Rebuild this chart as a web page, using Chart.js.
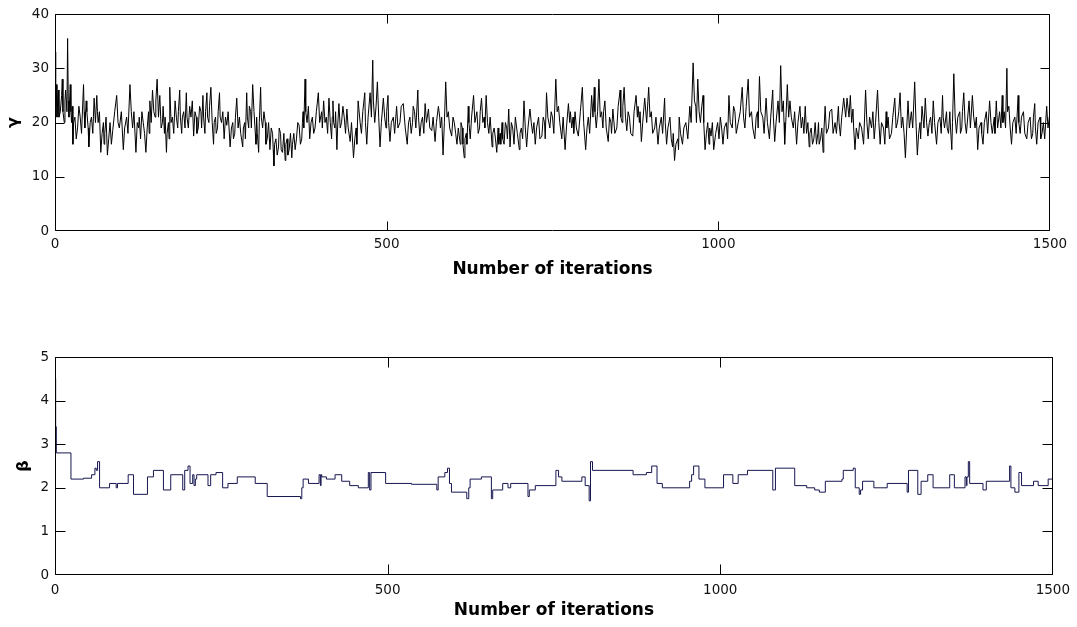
<!DOCTYPE html>
<html>
<head>
<meta charset="utf-8">
<title>Trace plots</title>
<script src="https://cdn.jsdelivr.net/npm/chart.js@4.4.1/dist/chart.umd.min.js"></script>
<style>
  html, body { margin: 0; padding: 0; background: #fff; }
  .panel { position: absolute; left: 0; width: 1077px; }
  #gammaPanel { top: 0; height: 290px; }
  #betaPanel { top: 340px; height: 287px; }
</style>
</head>
<body>
<div class="panel" id="gammaPanel"><canvas id="gammaChart"></canvas></div>
<div class="panel" id="betaPanel"><canvas id="betaChart"></canvas></div>
<script>
// tick positions
const iterationTicks = [0, 500, 1000, 1500];
const gammaTicks = [0, 10, 20, 30, 40];
const betaTicks = [0, 1, 2, 3, 4, 5];

// gamma chain: iteration -> sampled value
const gammaIter = [
  0, 1, 2, 3, 4, 5, 6, 8, 10, 11, 12, 14, 15, 16, 18, 19, 20, 21,
  23, 24, 25, 26, 27, 28, 30, 32, 34, 36, 38, 40, 43, 44, 45, 47, 48, 50, 51,
  53, 55, 57, 59, 61, 63, 64, 65, 67, 69, 71, 73, 74, 75, 77, 79, 81, 83, 85, 87,
  90, 93, 95, 97, 100, 103, 105, 108, 110, 113, 115, 117, 119, 122, 124, 126, 127, 129, 131, 133,
  135, 137, 139, 141, 142, 143, 145, 147, 149, 151, 152, 154, 156, 158, 160, 162, 163, 165, 166, 168,
  169, 171, 172, 173, 175, 177, 179, 181, 183, 185, 186, 188, 189, 191, 192, 194, 196, 198, 199, 201,
  203, 205, 207, 209, 211, 213, 214, 216, 218, 220, 221, 223, 224, 226, 227, 229, 230, 232, 233, 235,
  237, 239, 240, 242, 243, 245, 246, 248, 249, 251, 253, 255, 257, 259, 261, 264, 266, 268, 269, 271,
  272, 274, 276, 278, 280, 283, 284, 286, 287, 289, 290, 292, 293, 295, 296, 298, 300, 302, 303, 304,
  305, 307, 308, 310, 311, 313, 315, 317, 318, 320, 322, 324, 326, 328, 329, 330, 331, 333, 335, 337,
  338, 340, 341, 343, 345, 347, 348, 350, 351, 353, 355, 357, 358, 360, 362, 364, 366, 368, 370, 372,
  373, 374, 375, 377, 378, 380, 382, 384, 386, 388, 390, 392, 394, 397, 399, 402, 403, 405, 407, 409,
  411, 413, 415, 417, 418, 419, 420, 422, 423, 425, 426, 428, 430, 432, 434, 436, 438, 440, 442, 445,
  447, 450, 452, 454, 455, 457, 460, 462, 464, 467, 468, 470, 472, 475, 477, 479, 480, 482, 484, 486,
  488, 490, 492, 495, 497, 499, 500, 502, 503, 505, 507, 510, 512, 515, 517, 520, 522, 525, 528, 531,
  533, 535, 537, 539, 540, 542, 544, 547, 548, 550, 552, 554, 556, 558, 560, 563, 565, 568, 570, 573,
  575, 578, 580, 581, 583, 585, 587, 589, 591, 593, 595, 598, 600, 602, 604, 606, 608, 611,
  612, 614, 615, 617, 618, 620, 621, 623, 624, 626, 628, 631, 633, 636, 638, 640, 641, 643, 645, 647,
  648, 650, 652, 654, 656, 659, 660, 662, 664, 666, 668, 669, 671, 672, 674, 675, 677, 679, 681, 682,
  684, 685, 686, 688, 690, 692, 694, 697, 700, 701, 703, 705, 707, 709, 711, 713, 716, 718, 720, 722,
  724, 726, 729, 731, 734, 736, 738, 739, 741, 743, 746, 748, 750, 752, 755, 757, 759, 761, 764, 766,
  769, 771, 774, 776, 777, 779, 781, 782, 784, 786, 789, 792, 795, 797, 800, 802, 804, 806, 809, 811,
  813, 814, 816, 818, 820, 822, 824, 826, 827, 829, 831, 834, 836, 838, 839, 841, 844, 847, 849, 852,
  853, 855, 856, 858, 860, 862, 864, 866, 868, 871, 873, 876, 878, 879, 881, 882, 884, 886, 889, 892,
  895, 897, 899, 901, 904, 906, 909, 911, 914, 916, 919, 920, 922, 924, 927, 929, 931, 932, 934, 936,
  939, 940, 941, 943, 946, 948, 951, 954, 957, 959, 962, 964, 966, 967, 969, 971, 973, 975, 977, 978,
  980, 982, 984, 986, 987, 989, 991, 993, 996, 999, 1001, 1003, 1005, 1007, 1009, 1012, 1014, 1016, 1018, 1021,
  1023, 1025, 1027, 1030, 1033, 1036, 1038, 1040, 1042, 1045, 1047, 1050, 1052, 1055, 1057, 1059, 1060, 1062, 1064, 1067,
  1069, 1072, 1074, 1077, 1079, 1082, 1083, 1085, 1087, 1090, 1092, 1094, 1096, 1098, 1099, 1100, 1102, 1104, 1106, 1108,
  1110, 1113, 1115, 1118, 1120, 1123, 1125, 1127, 1129, 1131, 1133, 1135, 1137, 1138, 1140, 1142, 1144, 1146, 1148, 1150,
  1151, 1152, 1154, 1156, 1158, 1159, 1161, 1163, 1166, 1168, 1171, 1173, 1176, 1178, 1181, 1182, 1184, 1186, 1189, 1192,
  1194, 1197, 1199, 1201, 1203, 1204, 1206, 1208, 1211, 1213, 1216, 1219, 1222, 1224, 1226, 1228, 1231, 1233, 1235, 1237,
  1240, 1242, 1244, 1246, 1249, 1251, 1253, 1254, 1256, 1258, 1261, 1263, 1266, 1268, 1270, 1272, 1274, 1276, 1278, 1280,
  1282, 1284, 1286, 1288, 1291, 1293, 1296, 1298, 1300, 1302, 1304, 1305, 1307, 1310, 1312, 1314, 1316, 1318, 1320, 1322,
  1324, 1326, 1329, 1331, 1334, 1336, 1338, 1339, 1341, 1344, 1345, 1347, 1349, 1350, 1352, 1353, 1355, 1357, 1359, 1361,
  1364, 1365, 1367, 1368, 1370, 1372, 1374, 1376, 1378, 1380, 1383, 1385, 1387, 1389, 1391, 1393, 1396, 1397, 1399, 1401,
  1404, 1406, 1409, 1411, 1413, 1416, 1417, 1419, 1421, 1424, 1426, 1428, 1429, 1431, 1433, 1435, 1436, 1438, 1440, 1442,
  1444, 1447, 1449, 1452, 1453, 1455, 1457, 1460, 1462, 1465, 1467, 1470, 1472, 1474, 1475, 1477, 1478, 1480, 1482, 1485,
  1486, 1488, 1490, 1492, 1495, 1497, 1500
];
const gammaValue = [
  33, 23, 27, 21, 24, 26, 21, 22, 25, 28, 22, 20, 24, 26, 22, 35.5, 24, 21,
  27, 22, 20, 23, 16, 20, 21, 17, 19, 23, 21, 18, 27, 22, 19, 24, 22, 19, 15.5,
  20, 21, 18, 24.5, 20, 25, 22, 20, 22, 14.5, 18, 20, 16, 18, 21, 14, 17, 20, 16, 18.5,
  22, 25, 20, 19, 22, 15, 19, 21, 18, 27, 22, 19, 22, 14.5, 20, 19, 21, 17, 22, 20,
  18, 14.5, 19, 22, 18, 24, 20, 26, 22, 21, 24, 28, 21, 25, 19, 20, 23, 18, 21, 14.5,
  18, 20, 17, 26.5, 20, 21, 18, 24, 21, 19, 22, 26, 21, 18, 21, 22, 19, 25.5, 21, 19,
  23, 21, 24, 17.5, 22, 21, 18, 19, 23, 22, 19, 25, 21, 18, 22, 25.5, 21, 20, 23, 26.5,
  20, 16, 20, 21, 18, 19, 22, 25.5, 21, 20, 22, 17, 21, 19.5, 22, 15.5, 19, 20, 17, 18,
  21, 24.5, 19, 21, 18, 15.5, 19, 20, 17, 25.5, 21, 19, 23, 22, 19, 27, 22, 18, 16, 21,
  18, 14.5, 20, 26.5, 21, 19, 22, 20, 16, 17, 20, 15, 19, 18, 15, 12, 16, 17, 14, 15.5,
  19, 18, 15, 14.5, 18, 13, 16, 17, 14, 15, 18, 13.5, 16, 18, 15, 17, 20, 19.5, 16, 17,
  20, 22, 19, 28, 22, 20, 23, 17, 20, 21, 18, 19, 22, 25.5, 20, 22, 19, 24, 20, 21,
  18, 24.5, 20, 17, 21, 24, 20, 19, 22, 15, 19, 23.5, 19, 20, 23, 21, 18, 22.5, 19, 16.5,
  20, 13.5, 17, 19, 16, 24, 20, 18, 22, 25.5, 20, 16, 21, 25.5, 21, 31.5, 24, 20, 23, 27.5,
  21, 15.5, 20, 24.5, 21, 19, 22, 25, 20, 16.5, 20, 21, 18, 23, 19, 20, 23, 23.5, 19, 16,
  20, 21, 18, 20, 23, 22, 19, 26, 21, 17.5, 20, 21, 18, 23.5, 20, 22.5, 19, 18.5, 21, 16.5,
  20, 23, 21, 19, 21, 14, 20, 27.5, 21, 22, 19, 17.5, 21, 20, 18, 16, 19, 16,
  20, 19, 16, 13.5, 17, 18, 16, 23, 20, 17, 21, 25, 20, 22, 18, 19, 22, 24.5, 20, 21,
  19, 25, 20, 18, 21, 15.5, 18, 19, 17, 14.5, 19, 16, 18, 16, 20, 17, 16, 20, 19, 17,
  22.5, 19, 15.5, 20, 19, 16, 21, 18, 15, 18, 19, 17, 24, 19, 15.5, 19, 22.5, 20, 18, 20,
  16, 19, 21, 17, 17.5, 21, 20, 17, 25.5, 21, 19, 22, 21, 18, 28, 22, 23, 20, 17, 21,
  15, 19, 23.5, 20, 22, 19, 21, 18, 22, 19, 17.5, 22, 26.5, 20, 15, 19, 21, 18, 25, 21,
  26.5, 22, 19, 22, 28, 21, 22, 19, 22, 24, 19, 16.5, 21, 20, 18, 22.5, 18, 19, 23, 26,
  21, 20, 23, 26.5, 21, 18.5, 22, 21, 18, 17.5, 22, 25, 21, 23, 20, 22, 16.5, 20, 24.5, 20,
  26.5, 21, 22, 18, 19, 21, 16, 19, 21, 18, 24.5, 20, 16, 19, 21, 17, 15.5, 18, 13, 16,
  17, 15, 21, 18, 16, 19, 20, 17, 23, 20, 31, 24, 23, 20, 28, 22, 20, 23, 25, 20,
  15, 18, 20, 16, 19, 17.5, 20, 15, 18, 20, 17, 21, 19, 16, 19, 20, 17, 25, 20, 19,
  23, 22, 18, 20, 22, 26.5, 21, 19, 23, 28, 21, 22, 19, 17, 21, 22, 19, 28.5, 22, 21,
  18, 24.5, 20, 17, 21, 26, 21, 16.5, 20, 24, 20, 30.5, 22, 24, 20, 16, 21, 27, 21, 24,
  21, 19, 22, 16, 20, 23, 19, 21, 18, 23, 18, 20, 15.5, 18, 19, 16, 17, 20, 16, 18,
  20, 16, 17, 19, 14.5, 18, 23, 18, 19, 22, 22.5, 18, 20, 18, 23, 20, 17.5, 21, 24.5, 21,
  24.5, 21, 25, 20, 22.5, 19, 15, 19, 17, 20, 19, 16, 26, 20, 17, 21, 19, 22, 17, 20,
  26, 20, 16, 20, 19, 16, 22, 19, 21, 17, 18, 21, 24.5, 19, 20, 22, 25.5, 19, 21, 18,
  13.5, 19, 24, 19, 22, 19, 27.5, 20, 14, 18, 20, 17, 23, 19, 24.5, 20, 17.5, 20, 21, 18,
  24, 20, 16, 20, 21, 18, 25, 21, 19, 22, 19, 18, 22, 19, 15, 20, 29, 21, 18, 21,
  22, 18, 19, 22, 25.5, 20, 18, 21, 24, 19, 25, 21, 19, 21, 15, 19, 20, 18, 16, 20,
  22, 18, 24, 20, 18, 21, 18, 24, 19, 22, 19, 25, 20, 22, 19, 30, 22, 23, 19, 16,
  20, 21, 18, 25, 20, 18, 21, 22, 18, 17, 20, 21, 17, 18, 21, 23.5, 19, 16, 20, 21,
  17, 18, 20, 17, 23, 19, 22
];

// beta chain is piecewise constant: each entry starts a new level
const betaIter = [
  0, 1, 2, 24, 43, 55, 60, 62, 64, 67,
  82, 92, 94, 110, 118, 139, 148, 163, 174, 192,
  195, 200, 203, 207, 209, 211, 213, 230, 234, 242,
  252, 260, 274, 301, 319, 369, 371, 373, 381, 397,
  399, 400, 401, 408, 421, 431, 443, 456, 471, 473,
  475, 497, 536, 574, 576, 586, 590, 593, 596, 619,
  622, 624, 641, 656, 658, 673, 681, 685, 711, 713,
  722, 753, 757, 762, 792, 797, 803, 805, 808, 869,
  889, 897, 905, 913, 954, 957, 960, 968, 977, 1005,
  1019, 1027, 1041, 1079, 1083, 1112, 1130, 1142, 1149, 1158,
  1183, 1185, 1200, 1203, 1209, 1211, 1214, 1231, 1251, 1281,
  1283, 1297, 1302, 1312, 1320, 1345, 1352, 1368, 1370, 1371,
  1373, 1375, 1395, 1400, 1435, 1437, 1443, 1449, 1453, 1471,
  1478, 1493, 1500
];
const betaValue = [
  4.5, 3.4, 2.8, 2.2, 2.22, 2.3, 2.45, 2.4, 2.6, 2.0,
  2.1, 2.0, 2.1, 2.3, 1.85, 2.25, 2.4, 1.95, 2.3, 1.95,
  2.4, 2.5, 2.1, 2.3, 2.05, 2.2, 2.3, 2.05, 2.3, 2.35,
  2.0, 2.1, 2.25, 2.1, 1.8, 1.75, 2.0, 2.2, 2.1, 2.3,
  2.05, 2.3, 2.25, 2.2, 2.3, 2.15, 2.05, 2.0, 2.35, 1.95,
  2.35, 2.1, 2.08, 1.95, 2.25, 2.35, 2.45, 2.1, 1.9, 1.75,
  2.0, 2.2, 2.25, 1.75, 1.95, 2.1, 2.0, 2.1, 1.8, 1.95,
  2.05, 2.4, 2.25, 2.15, 2.25, 2.05, 1.7, 2.6, 2.4, 2.3,
  2.35, 2.5, 2.1, 2.0, 2.15, 2.3, 2.5, 2.2, 2.0, 2.3,
  2.1, 2.3, 2.4, 1.95, 2.45, 2.05, 2.0, 1.95, 1.9, 2.15,
  2.2, 2.4, 2.45, 2.0, 1.85, 1.95, 2.15, 2.0, 2.1, 1.9,
  2.4, 1.85, 2.15, 2.3, 2.0, 2.3, 2.0, 2.25, 2.05, 2.25,
  2.6, 2.1, 1.95, 2.15, 2.5, 2.0, 1.9, 2.35, 2.05, 2.15,
  2.05, 2.2, 2.2
];

Chart.defaults.font.family = "'DejaVu Sans', sans-serif";
Chart.defaults.color = '#111';

// frame round the plot area with inward tick marks on all four sides
const boxTicks = {
  id: 'boxTicks',
  afterDatasetsDraw(chart, args, opts) {
    const { ctx, chartArea: a, scales } = chart;
    const len = opts.length;
    const left = Math.round(a.left) + 0.5, right = Math.round(a.right) - 0.5;
    const top = Math.round(a.top) + 0.5, bottom = Math.round(a.bottom) - 0.5;
    const clamp = (v, lo, hi) => Math.min(Math.max(v, lo), hi);
    ctx.save();
    ctx.strokeStyle = '#000';
    ctx.lineWidth = 1;
    ctx.beginPath();
    scales.x.ticks.forEach(t => {
      const px = clamp(Math.round(scales.x.getPixelForValue(t.value)) + 0.5, left, right);
      ctx.moveTo(px, bottom); ctx.lineTo(px, bottom - len);
      ctx.moveTo(px, top); ctx.lineTo(px, top + len);
    });
    scales.y.ticks.forEach(t => {
      const py = clamp(Math.round(scales.y.getPixelForValue(t.value)) + 0.5, top, bottom);
      ctx.moveTo(left, py); ctx.lineTo(left + len, py);
      ctx.moveTo(right, py); ctx.lineTo(right - len, py);
    });
    ctx.rect(left, top, right - left, bottom - top);
    ctx.stroke();
    ctx.restore();
  }
};

function traceChart(id, xs, ys, opt) {
  return new Chart(document.getElementById(id), {
    type: 'line',
    data: {
      datasets: [{
        data: xs.map((x, i) => ({ x: x, y: ys[i] })),
        borderColor: opt.color,
        borderWidth: 1,
        pointRadius: 0,
        tension: 0,
        stepped: opt.stepped,
        fill: false
      }]
    },
    options: {
      responsive: true,
      maintainAspectRatio: false,
      animation: false,
      events: [],
      layout: { padding: opt.padding },
      plugins: {
        legend: { display: false },
        tooltip: { enabled: false },
        boxTicks: { length: opt.tickLength }
      },
      scales: {
        x: {
          type: 'linear',
          min: 0,
          max: 1500,
          afterBuildTicks: s => { s.ticks = iterationTicks.map(v => ({ value: v })); },
          afterFit: s => { s.height = opt.xHeight; },
          grid: { display: false, drawTicks: false },
          border: { display: false },
          ticks: {
            padding: opt.xTickPad,
            maxRotation: 0,
            font: { size: 13.5 },
            color: '#111',
            callback: v => String(v)
          },
          title: {
            display: true,
            text: 'Number of iterations',
            font: { size: 17, weight: 'bold' },
            color: '#000',
            padding: { top: 0, bottom: opt.xTitlePad }
          }
        },
        y: {
          type: 'linear',
          min: opt.yTicks[0],
          max: opt.yTicks[opt.yTicks.length - 1],
          afterBuildTicks: s => { s.ticks = opt.yTicks.map(v => ({ value: v })); },
          afterFit: s => { s.width = 55; },
          grid: { display: false, drawTicks: false },
          border: { display: false },
          ticks: { padding: 6, font: { size: 13.5 }, color: '#111', callback: v => String(v) },
          title: {
            display: true,
            text: opt.yLabel,
            font: { size: 16, weight: 'bold' },
            color: '#000',
            padding: { top: opt.yTitlePad, bottom: 0 }
          }
        }
      }
    },
    plugins: [boxTicks]
  });
}

traceChart('gammaChart', gammaIter, gammaValue, {
  color: '#000',
  stepped: false,
  yTicks: gammaTicks,
  yLabel: 'γ',
  padding: { top: 12, right: 27, left: 0, bottom: 0 },
  xHeight: 59,
  xTickPad: 5,
  xTitlePad: 10,
  yTitlePad: 4,
  tickLength: 9
});

traceChart('betaChart', betaIter, betaValue, {
  color: '#161650',
  stepped: true,
  yTicks: betaTicks,
  yLabel: 'β',
  padding: { top: 17, right: 24, left: 0, bottom: 0 },
  xHeight: 52,
  xTickPad: 7,
  xTitlePad: 6,
  yTitlePad: 14,
  tickLength: 10
});
</script>
</body>
</html>
